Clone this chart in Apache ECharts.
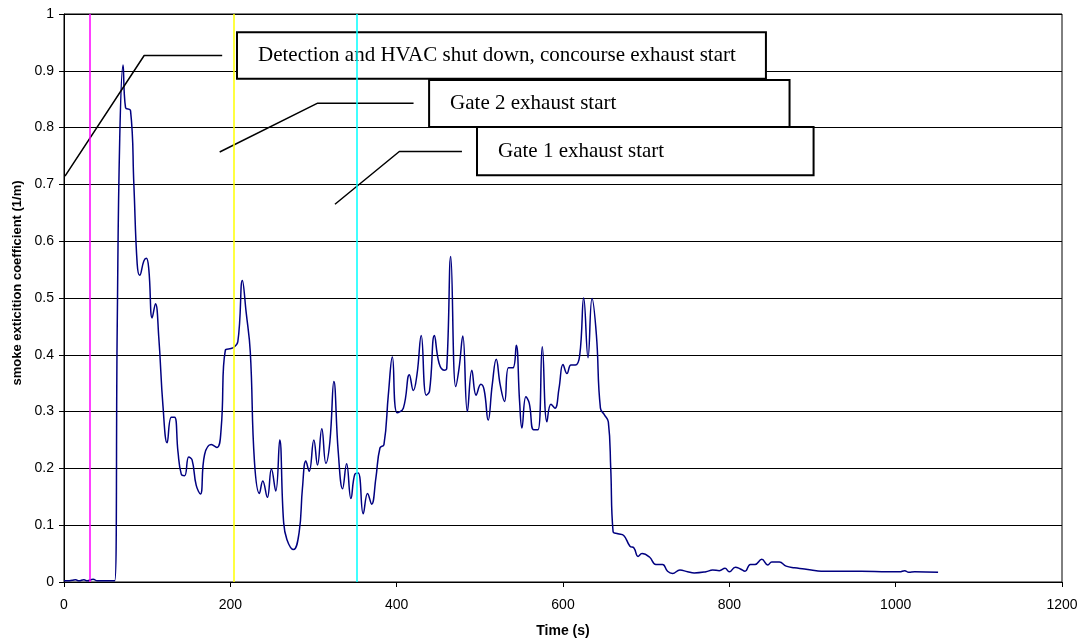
<!DOCTYPE html>
<html>
<head>
<meta charset="utf-8">
<script src="https://cdn.jsdelivr.net/npm/echarts@6/dist/echarts.min.js"></script>
<style>
html,body{margin:0;padding:0;background:#fff;}
#chart{width:1081px;height:643px;}
</style>
</head>
<body>
<div id="chart"></div>
<script>
// ---- Data ----
var times = [0,5,10,14,18,24,28,35,40,50,61,64,67,71,74,80,84,88,91,96,99,102,106,110,114,119,124,129,133,137,141,145,150,154,159,164,169,177,184,189,194,203,209,214.5,219,224,229,235,239,244.5,249.4,254.6,259.4,264,268,276,282.7,286.7,290.8,294.8,300.4,304.8,310,314.9,319.7,324.5,329.7,335,339.8,345,349.8,353.8,359.8,365,369.9,375,379.9,384.7,390,394.8,400.5,408,415.3,420,424.5,429.5,435.5,439.5,445.4,451,457,460.2,465,471,475,479.5,485,490.4,495.6,501.2,505.2,510,514.9,519.7,524.5,529.7,534.5,539.8,543.8,547.8,550.6,555.4,559.4,564.7,569.9,575.1,580.7,585.5,590.4,595.2,600,604.8,609.6,614.9,620.1,624.9,630.1,634.9,640.2,645,650,654.5,657.4,660.2,666,673,680.5,685.3,690.2,695,704,711.6,719.7,725.7,731.7,740.6,749.8,757.8,771.9,779.9,788,794.8,800,807.2,813.3,818.9,825.3,830.9,839,846.2,851,860.2,868.3,878.3,890.4,898.4,910.4,934.5,958.6,990.8,1004.8,1010.8,1015.7,1022.9,1051];
var extinction = [0.002,0.002,0.003,0.004,0.002,0.004,0.002,0.005,0.002,0.002,0.002,0.45,0.78,0.91,0.835,0.83,0.70,0.56,0.54,0.565,0.57,0.55,0.465,0.49,0.43,0.31,0.245,0.29,0.29,0.23,0.19,0.187,0.22,0.215,0.17,0.155,0.224,0.242,0.237,0.271,0.408,0.412,0.423,0.531,0.475,0.405,0.212,0.156,0.178,0.149,0.199,0.16,0.25,0.107,0.075,0.057,0.087,0.165,0.213,0.195,0.25,0.206,0.27,0.209,0.247,0.353,0.23,0.164,0.208,0.147,0.19,0.192,0.12,0.156,0.137,0.183,0.236,0.242,0.33,0.396,0.298,0.306,0.365,0.337,0.366,0.434,0.329,0.336,0.434,0.385,0.373,0.376,0.573,0.344,0.376,0.433,0.3,0.373,0.329,0.348,0.338,0.285,0.347,0.392,0.347,0.318,0.377,0.377,0.417,0.318,0.271,0.326,0.315,0.268,0.268,0.414,0.282,0.313,0.306,0.341,0.383,0.367,0.382,0.382,0.399,0.5,0.395,0.499,0.434,0.306,0.294,0.282,0.2,0.089,0.085,0.082,0.063,0.06,0.045,0.05,0.044,0.031,0.031,0.019,0.015,0.021,0.018,0.016,0.018,0.021,0.02,0.024,0.018,0.026,0.023,0.019,0.031,0.031,0.04,0.03,0.035,0.035,0.028,0.025,0.023,0.021,0.019,0.019,0.019,0.018,0.018,0.02,0.017,0.018,0.017];

// event times (vertical marker lines)
var eventTimes = [31, 204, 352];
var eventColors = ['#FF00FF', '#FFFF00', '#00FFFF'];

// annotation texts and their anchor points in data units
var noteTexts = ['Detection and HVAC shut down, concourse exhaust start', 'Gate 2 exhaust start', 'Gate 1 exhaust start'];
var noteBoxes = [[208, 844, 0.968, 0.886], [439, 872.4, 0.884, 0.801], [496.6, 901.3, 0.801, 0.716]];
var noteLeaders = [
  [[1.2, 0.7146], [96.4, 0.927], [190.2, 0.927]],
  [[187.2, 0.757], [305, 0.843], [420.3, 0.843]],
  [[325.8, 0.665], [403.2, 0.758], [478.5, 0.758]]
];

var xTicks = {min: 0, max: 1200, interval: 200};
var yTicks = {min: 0, max: 1, interval: 0.1};

// ---- Chart ----
var chart = echarts.init(document.getElementById('chart'), null, {renderer: 'canvas'});
var seriesData = times.map(function (t, i) { return [t, extinction[i]]; });

var series = [{
  type: 'line',
  data: seriesData,
  smooth: 0.45,
  showSymbol: false,
  symbol: 'none',
  lineStyle: {color: '#000080', width: 1.5},
  z: 3,
  markLine: {
    silent: true,
    symbol: 'none',
    label: {show: false},
    data: eventTimes.map(function (t, i) {
      return {xAxis: t, lineStyle: {color: eventColors[i], width: 1.5, type: 'solid'}};
    })
  }
}];
noteLeaders.forEach(function (pts) {
  series.push({
    type: 'line', data: pts, showSymbol: false, symbol: 'none', silent: true,
    lineStyle: {color: '#000', width: 1.5}, z: 4
  });
});

var axisFont = 'Liberation Sans, Arial, sans-serif';
chart.setOption({
  animation: false,
  backgroundColor: '#fff',
  grid: {left: 64, right: 19, top: 14, bottom: 59, show: true, borderColor: '#000', borderWidth: 1},
  xAxis: {
    type: 'value', min: xTicks.min, max: xTicks.max, interval: xTicks.interval,
    name: 'Time (s)', nameLocation: 'middle', nameGap: 42,
    nameTextStyle: {fontFamily: axisFont, fontWeight: 'bold', fontSize: 14, color: '#000'},
    axisLine: {show: true, lineStyle: {color: '#000', width: 1}},
    axisTick: {show: true, inside: false, length: 5, lineStyle: {color: '#000'}},
    axisLabel: {fontFamily: axisFont, fontSize: 14, color: '#000', margin: 16,
      formatter: function (v) { return String(v); }},
    splitLine: {show: false}
  },
  yAxis: {
    type: 'value', min: yTicks.min, max: yTicks.max, interval: yTicks.interval,
    name: 'smoke exticition coefficient (1/m)', nameLocation: 'middle', nameGap: 38,
    nameTextStyle: {fontFamily: axisFont, fontWeight: 'bold', fontSize: 13, color: '#000', padding: [0, 0, 0, 30]},
    axisLine: {show: true, lineStyle: {color: '#000', width: 1}},
    axisTick: {show: true, inside: false, length: 5, lineStyle: {color: '#000'}},
    axisLabel: {fontFamily: axisFont, fontSize: 14, color: '#000', margin: 10},
    splitLine: {show: true, lineStyle: {color: '#000', width: 1}}
  },
  series: series
});

// annotation boxes positioned through the axes
var graphics = [];
noteBoxes.forEach(function (b, i) {
  var p0 = chart.convertToPixel({gridIndex: 0}, [b[0], b[2]]);
  var p1 = chart.convertToPixel({gridIndex: 0}, [b[1], b[3]]);
  var w = p1[0] - p0[0], h = p1[1] - p0[1];
  graphics.push({
    type: 'group', x: p0[0], y: p0[1], z: 100,
    children: [
      {type: 'rect', shape: {x: 0, y: 0, width: w, height: h}, style: {fill: '#fff', stroke: '#000', lineWidth: 2}},
      {type: 'text', x: 21, y: h / 2, style: {text: noteTexts[i], fill: '#000', font: '21px "Liberation Serif", "Times New Roman", serif', textVerticalAlign: 'middle', verticalAlign: 'middle'}}
    ]
  });
});
chart.setOption({graphic: graphics});
</script>
</body>
</html>
